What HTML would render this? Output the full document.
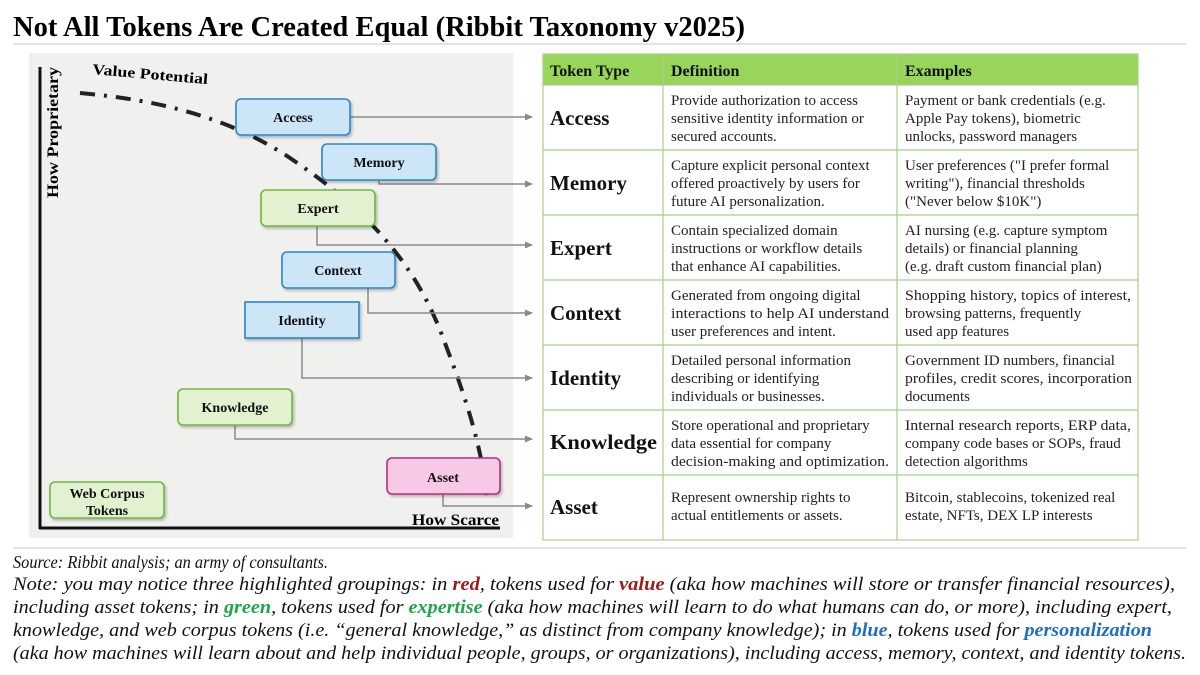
<!DOCTYPE html>
<html><head><meta charset="utf-8"><style>
html,body{margin:0;padding:0;background:#fff;width:1200px;height:675px;overflow:hidden}
svg{display:block}
text{font-family:"Liberation Serif",serif}
</style></head><body>
<svg width="1200" height="675" viewBox="0 0 1200 675" xmlns="http://www.w3.org/2000/svg">
<defs>
<marker id="ar" markerWidth="8" markerHeight="8" refX="7" refY="4" orient="auto" markerUnits="userSpaceOnUse"><path d="M0,0.5 L8,4 L0,7.5 z" fill="#8a8a8a"/></marker>
<filter id="sh" x="-10%" y="-10%" width="130%" height="140%"><feDropShadow dx="1.5" dy="2" stdDeviation="1.2" flood-color="#000" flood-opacity="0.25"/></filter>
</defs>
<text x="13" y="36" font-size="29" font-weight="bold" textLength="732" lengthAdjust="spacingAndGlyphs">Not All Tokens Are Created Equal (Ribbit Taxonomy v2025)</text>
<line x1="13" y1="44" x2="1186" y2="44" stroke="#d9dec9" stroke-width="1.5"/>

<rect x="29" y="53" width="484" height="485" fill="#f0f0ef"/>
<line x1="40" y1="67" x2="40" y2="529" stroke="#111" stroke-width="3"/>
<line x1="39" y1="528" x2="500" y2="528" stroke="#111" stroke-width="3"/>
<text transform="translate(58,198) rotate(-90)" font-size="16" font-weight="bold" textLength="131" lengthAdjust="spacingAndGlyphs">How Proprietary</text>
<text transform="translate(92,74) rotate(5)" font-size="15" font-weight="bold" textLength="116" lengthAdjust="spacingAndGlyphs">Value Potential</text>
<text x="412" y="525" font-size="16" font-weight="bold" textLength="87" lengthAdjust="spacingAndGlyphs">How Scarce</text>

<path d="M80,93 C160,100 230,118 290,158 C360,205 410,255 440,330 C465,395 480,440 487,495" fill="none" stroke="#222" stroke-width="4" stroke-dasharray="15 9 3 9"/>

<g stroke="#8a8a8a" stroke-width="1.5" fill="none" marker-end="url(#ar)">
<path d="M350,117 H532"/>
<path d="M379,180 V184 H532"/>
<path d="M317,226 V245 H532"/>
<path d="M368,288 V313 H532"/>
<path d="M302,338 V378 H532"/>
<path d="M235,425 V439 H532"/>
<path d="M443,494 V506 H532"/>
</g>

<g filter="url(#sh)">
<rect x="236" y="99" width="114" height="36" rx="5" fill="#cce5f7" stroke="#2a86c8" stroke-width="1.6"/>
<rect x="322" y="144" width="114" height="36" rx="5" fill="#cce5f7" stroke="#2a86c8" stroke-width="1.6"/>
<rect x="261" y="190" width="114" height="36" rx="5" fill="#e2f2d0" stroke="#70b63c" stroke-width="1.6"/>
<rect x="282" y="252" width="113" height="36" rx="5" fill="#cce5f7" stroke="#2a86c8" stroke-width="1.6"/>
<rect x="245" y="302" width="114" height="36" fill="#cce5f7" stroke="#2a86c8" stroke-width="1.6"/>
<rect x="178" y="389" width="114" height="36" rx="5" fill="#e2f2d0" stroke="#70b63c" stroke-width="1.6"/>
<rect x="387" y="458" width="113" height="36" rx="5" fill="#f7c9e6" stroke="#b2337f" stroke-width="1.6"/>
<rect x="50" y="482" width="114" height="36" rx="5" fill="#e2f2d0" stroke="#70b63c" stroke-width="1.6"/>
</g>
<g font-size="14" font-weight="bold" text-anchor="middle" fill="#111">
<text x="293" y="122">Access</text>
<text x="379" y="167">Memory</text>
<text x="318" y="213">Expert</text>
<text x="338" y="275">Context</text>
<text x="302" y="325">Identity</text>
<text x="235" y="412">Knowledge</text>
<text x="443" y="482">Asset</text>
<text x="107" y="498">Web Corpus</text>
<text x="107" y="515">Tokens</text>
</g>

<rect x="543" y="54" width="595" height="31" fill="#98d55a"/>
<g stroke="#a9cf8c" stroke-width="1.2" fill="none">
<rect x="543" y="54" width="595" height="486"/>
<line x1="663" y1="54" x2="663" y2="540"/>
<line x1="897" y1="54" x2="897" y2="540"/>
<line x1="543" y1="85" x2="1138" y2="85"/>
<line x1="543" y1="150" x2="1138" y2="150"/>
<line x1="543" y1="215" x2="1138" y2="215"/>
<line x1="543" y1="280" x2="1138" y2="280"/>
<line x1="543" y1="345" x2="1138" y2="345"/>
<line x1="543" y1="410" x2="1138" y2="410"/>
<line x1="543" y1="475" x2="1138" y2="475"/>
</g>
<g font-size="16" font-weight="bold" fill="#111">
<text x="550" y="76">Token Type</text>
<text x="671" y="76">Definition</text>
<text x="905" y="76">Examples</text>
</g>
<g font-size="21" font-weight="bold" fill="#111">
<text x="550" y="125">Access</text>
<text x="550" y="190">Memory</text>
<text x="550" y="255">Expert</text>
<text x="550" y="320">Context</text>
<text x="550" y="385">Identity</text>
<text x="550" y="449" textLength="107" lengthAdjust="spacingAndGlyphs">Knowledge</text>
<text x="550" y="514">Asset</text>
</g>
<g font-size="15" fill="#222">
<text x="671" y="105">Provide authorization to access</text>
<text x="671" y="123">sensitive identity information or</text>
<text x="671" y="141">secured accounts.</text>
<text x="905" y="105">Payment or bank credentials (e.g.</text>
<text x="905" y="123">Apple Pay tokens), biometric</text>
<text x="905" y="141">unlocks, password managers</text>

<text x="671" y="170">Capture explicit personal context</text>
<text x="671" y="188">offered proactively by users for</text>
<text x="671" y="206">future AI personalization.</text>
<text x="905" y="170">User preferences ("I prefer formal</text>
<text x="905" y="188">writing"), financial thresholds</text>
<text x="905" y="206">("Never below $10K")</text>

<text x="671" y="235">Contain specialized domain</text>
<text x="671" y="253">instructions or workflow details</text>
<text x="671" y="271">that enhance AI capabilities.</text>
<text x="905" y="235">AI nursing (e.g. capture symptom</text>
<text x="905" y="253">details) or financial planning</text>
<text x="905" y="271">(e.g. draft custom financial plan)</text>

<text x="671" y="300">Generated from ongoing digital</text>
<text x="671" y="318" textLength="218" lengthAdjust="spacingAndGlyphs">interactions to help AI understand</text>
<text x="671" y="336">user preferences and intent.</text>
<text x="905" y="300" textLength="226" lengthAdjust="spacingAndGlyphs">Shopping history, topics of interest,</text>
<text x="905" y="318">browsing patterns, frequently</text>
<text x="905" y="336">used app features</text>

<text x="671" y="365">Detailed personal information</text>
<text x="671" y="383">describing or identifying</text>
<text x="671" y="401">individuals or businesses.</text>
<text x="905" y="365">Government ID numbers, financial</text>
<text x="905" y="383" textLength="227" lengthAdjust="spacingAndGlyphs">profiles, credit scores, incorporation</text>
<text x="905" y="401">documents</text>

<text x="671" y="430">Store operational and proprietary</text>
<text x="671" y="448">data essential for company</text>
<text x="671" y="466" textLength="218" lengthAdjust="spacingAndGlyphs">decision-making and optimization.</text>
<text x="905" y="430" textLength="226" lengthAdjust="spacingAndGlyphs">Internal research reports, ERP data,</text>
<text x="905" y="448">company code bases or SOPs, fraud</text>
<text x="905" y="466">detection algorithms</text>

<text x="671" y="502">Represent ownership rights to</text>
<text x="671" y="520">actual entitlements or assets.</text>
<text x="905" y="502">Bitcoin, stablecoins, tokenized real</text>
<text x="905" y="520">estate, NFTs, DEX LP interests</text>
</g>

<line x1="13" y1="548" x2="1186" y2="548" stroke="#d9dec9" stroke-width="1.5"/>

<g font-size="19" font-style="italic" fill="#111">
<text x="13" y="568" font-size="17.5" textLength="315" lengthAdjust="spacingAndGlyphs">Source: Ribbit analysis; an army of consultants.</text>
<text x="13" y="590" textLength="1162" lengthAdjust="spacingAndGlyphs">Note: you may notice three highlighted groupings: in <tspan fill="#9b1c1c" font-weight="bold">red</tspan>, tokens used for <tspan fill="#9b1c1c" font-weight="bold">value</tspan> (aka how machines will store or transfer financial resources),</text>
<text x="13" y="613" textLength="1159" lengthAdjust="spacingAndGlyphs">including asset tokens; in <tspan fill="#1fa64a" font-weight="bold">green</tspan>, tokens used for <tspan fill="#1fa64a" font-weight="bold">expertise</tspan> (aka how machines will learn to do what humans can do, or more), including expert,</text>
<text x="13" y="636" textLength="1139" lengthAdjust="spacingAndGlyphs">knowledge, and web corpus tokens (i.e. “general knowledge,” as distinct from company knowledge); in <tspan fill="#1f6fc0" font-weight="bold">blue</tspan>, tokens used for <tspan fill="#1f6fc0" font-weight="bold">personalization</tspan></text>
<text x="13" y="659" textLength="1173" lengthAdjust="spacingAndGlyphs">(aka how machines will learn about and help individual people, groups, or organizations), including access, memory, context, and identity tokens.</text>
</g>
</svg>
</body></html>
